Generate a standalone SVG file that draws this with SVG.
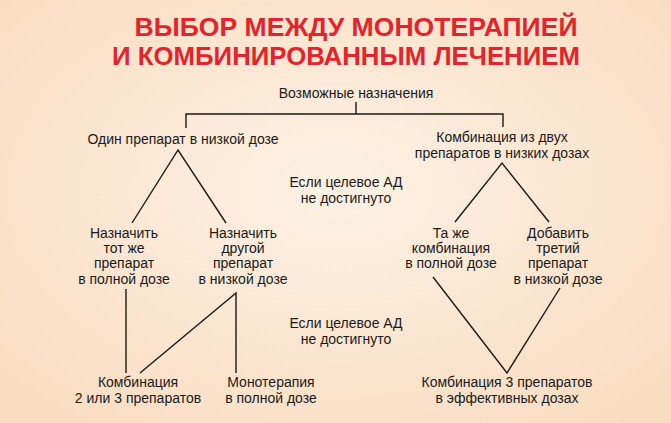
<svg xmlns="http://www.w3.org/2000/svg" width="671" height="423" viewBox="0 0 671 423">
<defs>
<radialGradient id="bg" cx="0.5" cy="0.45" r="0.7"><stop offset="0" stop-color="#fdf1e4"/><stop offset="1" stop-color="#f9dcc0"/></radialGradient>
<style>
.t{font-family:"Liberation Sans",Arial,sans-serif;font-size:14px;fill:#1a1a1a;text-anchor:middle}
.h{font-family:"Liberation Sans",Arial,sans-serif;font-size:25px;font-weight:bold;fill:#e3242b;text-anchor:middle}
.l{stroke:#1a1a1a;stroke-width:1.4;fill:none}
</style>
</defs>
<rect width="671" height="423" fill="url(#bg)"/>
<text class="h" x="356" y="36" textLength="443" lengthAdjust="spacingAndGlyphs">ВЫБОР МЕЖДУ МОНОТЕРАПИЕЙ</text>
<text class="h" x="346" y="65" textLength="468" lengthAdjust="spacingAndGlyphs">И КОМБИНИРОВАННЫМ ЛЕЧЕНИЕМ</text>
<g id="connectors">
<path class="l" d="M356 102V114M186 128V114H503V127"/>
<path class="l" d="M132 223L178 150L226 223"/>
<path class="l" d="M455 222L502 163L549 222"/>
<path class="l" d="M126 289V373M140 373L236 293V373"/>
<path class="l" d="M433 277L507 373L560 288"/>
</g>
<g id="root"><text class="t" x="356" y="98">Возможные назначения</text></g>
<g id="n1"><text class="t" x="183" y="144">Один препарат в низкой дозе</text></g>
<g id="n2"><text class="t" x="502" y="142">Комбинация из двух</text><text class="t" x="502" y="158">препаратов в низких дозах</text></g>
<g id="c1"><text class="t" x="346" y="187">Если целевое АД</text><text class="t" x="346" y="203">не достигнуто</text></g>
<g id="n3"><text class="t" x="124" y="238">Назначить</text><text class="t" x="124" y="253">тот же</text><text class="t" x="124" y="268">препарат</text><text class="t" x="124" y="284">в полной дозе</text></g>
<g id="n4"><text class="t" x="243" y="238">Назначить</text><text class="t" x="243" y="253">другой</text><text class="t" x="243" y="268">препарат</text><text class="t" x="243" y="284">в низкой дозе</text></g>
<g id="n5"><text class="t" x="451" y="238">Та же</text><text class="t" x="451" y="253">комбинация</text><text class="t" x="451" y="268">в полной дозе</text></g>
<g id="n6"><text class="t" x="558" y="238">Добавить</text><text class="t" x="558" y="253">третий</text><text class="t" x="558" y="268">препарат</text><text class="t" x="558" y="284">в низкой дозе</text></g>
<g id="c2"><text class="t" x="346" y="328">Если целевое АД</text><text class="t" x="346" y="344">не достигнуто</text></g>
<g id="n7"><text class="t" x="138" y="387">Комбинация</text><text class="t" x="138" y="403">2 или 3 препаратов</text></g>
<g id="n8"><text class="t" x="271" y="387">Монотерапия</text><text class="t" x="271" y="403">в полной дозе</text></g>
<g id="n9"><text class="t" x="507" y="387">Комбинация 3 препаратов</text><text class="t" x="507" y="403">в эффективных дозах</text></g>
</svg>
